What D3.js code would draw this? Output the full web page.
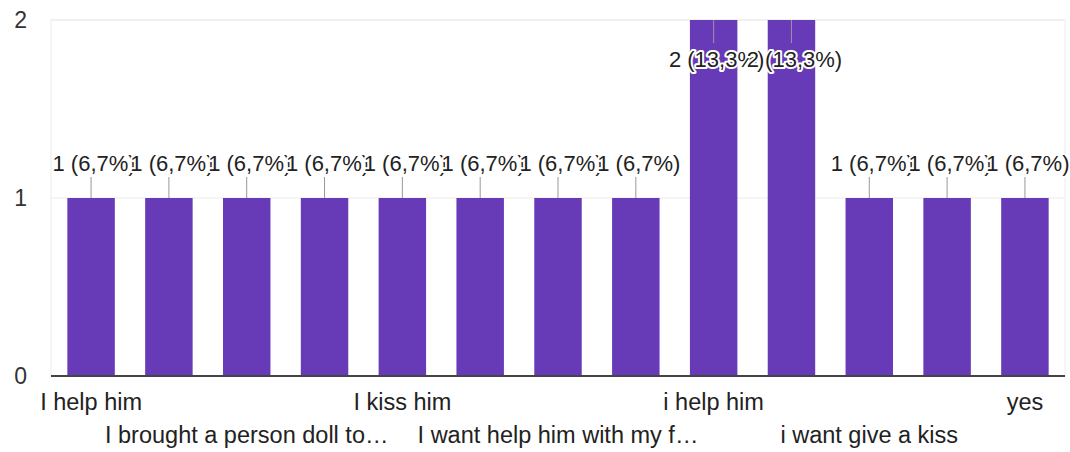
<!DOCTYPE html>
<html>
<head>
<meta charset="utf-8">
<script src="https://cdn.jsdelivr.net/npm/d3@7"></script>
<style>
    body { margin: 0; background: #fff; }
    svg { display: block; font-family: Arial, "Liberation Sans", sans-serif; }
</style>
</head>
<body>
<svg id="chart" width="1070" height="452"></svg>
<script>
// answers as they appear on the axis (hidden ones are skipped by the chart)
var categories = [
    "I help him", "I hug him", "I brought a person doll to…", "I play with him",
    "I kiss him", "I talk to him", "I want help him with my f…", "I give him a toy",
    "i help him", "i hug him", "i want give a kiss", "i play with him", "yes"
];
var counts = [1, 1, 1, 1, 1, 1, 1, 1, 2, 2, 1, 1, 1];
var yTicks = [0, 1, 2];

var svg = d3.select("#chart"),
    margin = {top: 20, right: 5, bottom: 76, left: 51},
    width = 1070 - margin.left - margin.right,
    height = 452 - margin.top - margin.bottom,
    g = svg.append("g").attr("transform", "translate(" + margin.left + "," + margin.top + ")"),
    total = d3.sum(counts),
    pct = d3.format(".1f");

var x = d3.scaleBand()
    .domain(d3.range(categories.length))
    .range([0, width])
    .paddingInner(0.39)
    .paddingOuter(0.21);

var y = d3.scaleLinear().domain([0, 2]).range([height, 0]);

// frame + gridlines
g.append("rect")
    .attr("x", 0).attr("y", 0)
    .attr("width", width).attr("height", height)
    .attr("fill", "none")
    .attr("stroke", "#ececec");

g.selectAll(".grid")
    .data(yTicks.filter(function(d) { return d > 0; }))
    .enter().append("line")
    .attr("class", "grid")
    .attr("x1", 0).attr("x2", width)
    .attr("y1", function(d) { return y(d); })
    .attr("y2", function(d) { return y(d); })
    .attr("stroke", "#ebebeb");

var yAxis = g.append("g")
    .call(d3.axisLeft(y).tickValues(yTicks).tickSize(0).tickPadding(24).tickFormat(d3.format("d")));
yAxis.select(".domain").remove();
yAxis.selectAll("text")
    .attr("font-size", "23px")
    .attr("fill", "#333");

g.selectAll(".bar")
    .data(counts)
    .enter().append("rect")
    .attr("class", "bar")
    .attr("x", function(d, i) { return x(i); })
    .attr("y", function(d) { return y(d); })
    .attr("width", x.bandwidth())
    .attr("height", function(d) { return height - y(d); })
    .attr("fill", "#673ab7");

// baseline
g.append("line")
    .attr("x1", 0).attr("x2", width)
    .attr("y1", height).attr("y2", height)
    .attr("stroke", "#444")
    .attr("stroke-width", 2);

// value labels: above the bar if it fits, otherwise inside
function inside(d) { return y(d) < 30; }

g.selectAll(".leader")
    .data(counts)
    .enter().append("line")
    .attr("class", "leader")
    .attr("x1", function(d, i) { return x(i) + x.bandwidth() / 2; })
    .attr("x2", function(d, i) { return x(i) + x.bandwidth() / 2; })
    .attr("y1", function(d) { return y(d); })
    .attr("y2", function(d) { return inside(d) ? y(d) + 23 : y(d) - 21; })
    .attr("stroke", "#999")
    .attr("stroke-width", 1);

var labels = g.append("g");
counts.forEach(function(d, i) {
    labels.append("text")
        .attr("x", x(i) + x.bandwidth() / 2 + 3)
        .attr("y", inside(d) ? y(d) + 47 : y(d) - 27)
        .attr("text-anchor", "middle")
        .attr("font-size", "22px")
        .attr("fill", "#222")
        .attr("stroke", "#fff")
        .attr("stroke-width", 4)
        .attr("stroke-linejoin", "round")
        .attr("paint-order", "stroke")
        .text(d + " (" + pct(d / total * 100).replace(".", ",") + "%)");
});

// category labels, every other one, staggered over two rows
var xl = g.append("g");
categories.forEach(function(c, i) {
    if (i % 2 != 0) return;
    xl.append("text")
        .attr("x", x(i) + x.bandwidth() / 2)
        .attr("y", i % 4 == 0 ? height + 34 : height + 67)
        .attr("text-anchor", "middle")
        .attr("font-size", "23.5px")
        .attr("fill", "#222")
        .text(c);
});
</script>
</body>
</html>
